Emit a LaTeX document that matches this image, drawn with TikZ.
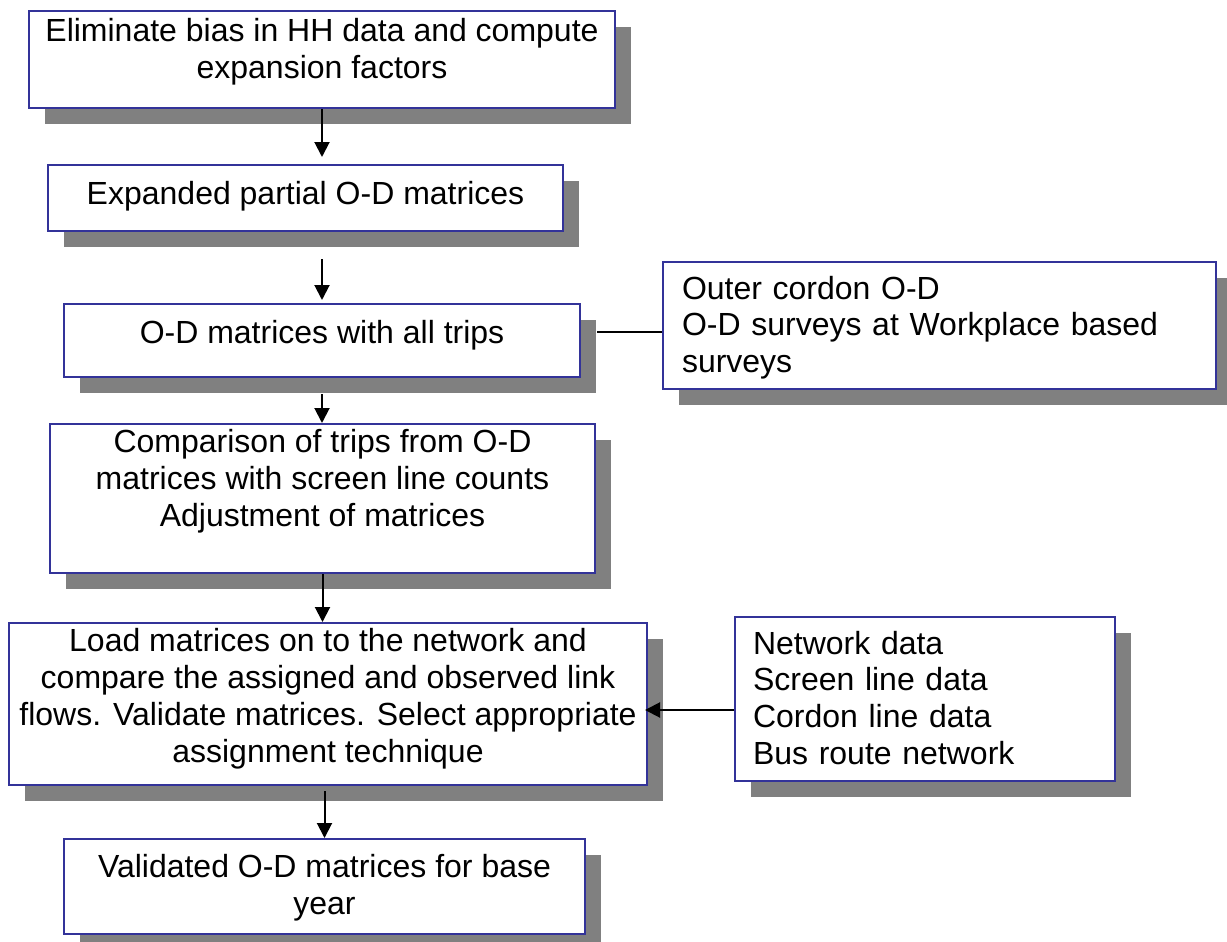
\documentclass[tikz,border=0pt]{standalone}
\usepackage{fontspec}
\setmainfont{Liberation Sans}
\usetikzlibrary{arrows.meta,shadows}
\definecolor{boxblue}{RGB}{51,51,153}
\tikzset{
  box/.style={draw=boxblue, line width=1pt, fill=white, anchor=north,
    align=center, inner xsep=4pt, inner ysep=0pt,
    font=\fontsize{16}{18.4}\selectfont,
    drop shadow={shadow xshift=8pt, shadow yshift=-8pt, opacity=1, fill=gray}},
  sidebox/.style={box, align=left, inner xsep=9.5pt},
  flow/.style={line width=1pt, -{Triangle[length=7.5pt,width=7.5pt]}},
  link/.style={line width=1pt}
}
\begin{document}
\begin{tikzpicture}[x=0.5pt,y=-0.5pt]
\useasboundingbox (0,0) rectangle (1227,942);
% main chain
\node[box, minimum width=293pt, text height=33.5pt, text depth=15pt]
  (bias) at (322,10) {Eliminate bias in HH data and compute\\expansion factors};
\node[box, minimum width=257.5pt, text height=19.5pt, text depth=13.5pt]
  (partial) at (305.5,164) {Expanded partial O-D matrices};
\node[box, minimum width=258pt, text height=19.5pt, text depth=17pt]
  (alltrips) at (322,303) {O-D matrices with all trips};
\node[box, minimum width=272.5pt, text height=51pt, text depth=23.5pt]
  (compare) at (322.5,423) {Comparison of trips from O-D\\matrices with screen line counts\\Adjustment of matrices};
\node[box, minimum width=319pt, text height=69.5pt, text depth=11.5pt]
  (load) at (328,622) {Load matrices on to the network and\\compare the assigned and observed link\\flows. Validate matrices. Select appropriate\\assignment technique};
\node[box, minimum width=260.5pt, text height=37.75pt, text depth=9.75pt]
  (valid) at (324.5,838) {Validated O-D matrices for base\\year};
% side inputs
\node[sidebox, text width=257.5pt, text height=18.5pt, text depth=45pt]
  (cordon) at (939.5,261) {Outer cordon O-D\\O-D surveys at Workplace based\\surveys};
\node[sidebox, inner xsep=9pt, text width=172pt, text height=18.5pt, text depth=63.5pt]
  (netdata) at (925,616) {Network data\\Screen line data\\Cordon line data\\Bus route network};
% connectors
\draw[flow, shorten >=3.5pt] (bias.south) -- (bias.south |- partial.north);
\draw[flow, shorten <=13.5pt, shorten >=1.5pt] (alltrips.north |- partial.south) -- (alltrips.north);
\draw[flow, shorten <=8pt] (alltrips.south) -- (alltrips.south |- compare.north);
\draw[flow] (compare.south) -- (compare.south |- load.north);
\draw[flow, shorten <=2.5pt] (valid.north |- load.south) -- (valid.north);
\draw[link, shorten <=8pt] ([yshift=4.25pt]alltrips.east) -- ([yshift=4.25pt]alltrips.east -| cordon.west);
\draw[flow, shorten >=-1.5pt] ([yshift=-5.5pt]netdata.west) -- ([yshift=-5.5pt]netdata.west -| load.east);
\end{tikzpicture}
\end{document}
